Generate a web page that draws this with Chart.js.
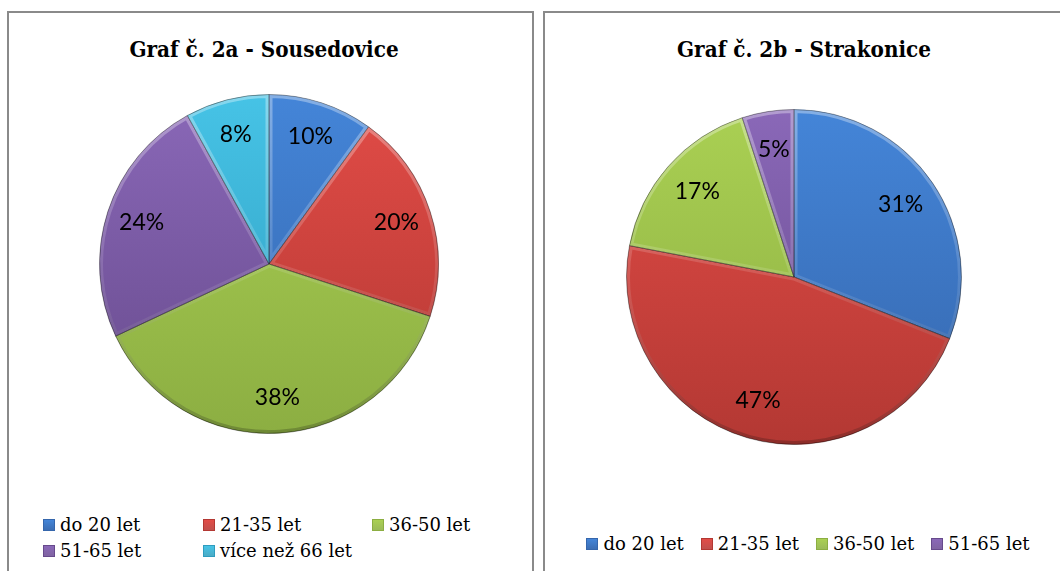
<!DOCTYPE html>
<html>
<head>
<meta charset="utf-8">
<script src="https://cdn.jsdelivr.net/npm/chart.js@4"></script>
<style>
  html, body { margin: 0; padding: 0; background: #fff; overflow: hidden; }
  #page { position: relative; width: 1060px; height: 571px; }
  .panel { position: absolute; box-sizing: border-box; border: 2px solid #8a8a8a; background: #fff; }
  .title {
    position: absolute; width: 400px; text-align: center;
    font-family: "DejaVu Serif", serif;
    font-weight: bold; font-size: 23px; line-height: 26px; color: #000;
    transform: scaleX(0.87); transform-origin: center;
  }
  canvas { position: absolute; }
  .legend {
    position: absolute; color: #000;
    font-family: "DejaVu Serif", serif;
    font-size: 18px; line-height: 26px;
  }
  .legend .item { display: flex; align-items: center; white-space: nowrap; }
  .legend .box { width: 12px; height: 12px; margin-right: 5px; box-sizing: border-box; }
  #legendA { left: 43px; top: 512px; display: grid; grid-template-columns: 160px 169px auto; }
  #legendB { left: 543px; width: 530px; top: 531px; display: flex; justify-content: center; gap: 17px; }
</style>
</head>
<body>
<div id="page">
  <div class="panel" style="left:7px; top:11px; width:527px; height:600px;"></div>
  <div class="panel" style="left:543px; top:11px; width:540px; height:600px;"></div>

  <div class="title" style="left:64px; top:36px;">Graf č. 2a - Sousedovice</div>
  <div class="title" style="left:604px; top:36px;">Graf č. 2b - Strakonice</div>

  <canvas id="chartA" width="340" height="340" style="left:99px; top:94px;"></canvas>
  <canvas id="chartB" width="336" height="336" style="left:626px; top:109px;"></canvas>

  <div class="legend" id="legendA"></div>
  <div class="legend" id="legendB"></div>
</div>

<script>
// data
const labelsA = ["do 20 let", "21-35 let", "36-50 let", "51-65 let", "více než 66 let"];
const valuesA = [10, 20, 38, 24, 8];

const labelsB = ["do 20 let", "21-35 let", "36-50 let", "51-65 let"];
const valuesB = [31, 47, 17, 5];

// office-like colours, lighter at the top of the pie, darker at the bottom
const topColors = ["#4485d8", "#e24c47", "#aad053", "#8a68b8", "#46c3e6"];
const bottomColors = ["#3566ac", "#b33833", "#8cae42", "#674a8c", "#2f9cbe"];
const legendColors = ["#3c6eb4", "#c0504d", "#9bbb59", "#8064a2", "#4bacc6"];

function sliceFill(c) {
  const area = c.chart.chartArea;
  if (!area) return topColors[c.dataIndex];
  const g = c.chart.ctx.createLinearGradient(0, area.top, 0, area.bottom);
  g.addColorStop(0, topColors[c.dataIndex]);
  g.addColorStop(1, bottomColors[c.dataIndex]);
  return g;
}

// soft bevel along the slice edges: light on top, dark underneath
const bevel = {
  id: "bevel",
  afterDatasetsDraw(chart) {
    const ctx = chart.ctx;
    const area = chart.chartArea;
    const g = ctx.createLinearGradient(0, area.top, 0, area.bottom);
    g.addColorStop(0, "rgba(255,255,255,0.35)");
    g.addColorStop(0.5, "rgba(255,255,255,0.12)");
    g.addColorStop(1, "rgba(0,0,0,0.22)");
    chart.getDatasetMeta(0).data.forEach((arc) => {
      ctx.save();
      ctx.beginPath();
      ctx.moveTo(arc.x, arc.y);
      ctx.arc(arc.x, arc.y, arc.outerRadius, arc.startAngle, arc.endAngle);
      ctx.closePath();
      ctx.clip();
      ctx.lineWidth = 7;
      ctx.strokeStyle = g;
      ctx.stroke();
      ctx.lineWidth = 1;
      ctx.strokeStyle = "rgba(0,0,0,0.3)";
      ctx.stroke();
      ctx.restore();
    });
  }
};

// percentage labels inside the slices
const pctLabels = {
  id: "pctLabels",
  afterDatasetsDraw(chart, args, opts) {
    const ctx = chart.ctx;
    const meta = chart.getDatasetMeta(0);
    const data = chart.data.datasets[0].data;
    ctx.save();
    ctx.font = "23px Lato";
    ctx.fillStyle = "#000";
    ctx.textAlign = "center";
    ctx.textBaseline = "middle";
    meta.data.forEach((arc, i) => {
      const mid = (arc.startAngle + arc.endAngle) / 2;
      const r = arc.outerRadius * opts.ratio;
      ctx.fillText(data[i] + "%", arc.x + Math.cos(mid) * r, arc.y + Math.sin(mid) * r);
    });
    ctx.restore();
  }
};

function makePie(id, labels, values, ratio) {
  return new Chart(document.getElementById(id), {
    type: "pie",
    data: {
      labels: labels,
      datasets: [{
        data: values,
        backgroundColor: sliceFill,
        borderColor: "rgba(0,0,0,0.3)",
        borderWidth: 1,
      }],
    },
    options: {
      responsive: false,
      animation: false,
      layout: { padding: 0 },
      plugins: {
        legend: { display: false },
        tooltip: { enabled: false },
        pctLabels: { ratio: ratio },
      },
    },
    plugins: [bevel, pctLabels],
  });
}

function makeLegend(id, labels) {
  const el = document.getElementById(id);
  labels.forEach((name, i) => {
    const item = document.createElement("div");
    item.className = "item";
    const box = document.createElement("span");
    box.className = "box";
    box.style.background = `linear-gradient(${topColors[i]}, ${legendColors[i]})`;
    box.style.border = `1px solid ${bottomColors[i]}`;
    item.appendChild(box);
    item.appendChild(document.createTextNode(name));
    el.appendChild(item);
  });
}

makePie("chartA", labelsA, valuesA, 0.79);
makePie("chartB", labelsB, valuesB, 0.77);
makeLegend("legendA", labelsA);
makeLegend("legendB", labelsB);
</script>
</body>
</html>
